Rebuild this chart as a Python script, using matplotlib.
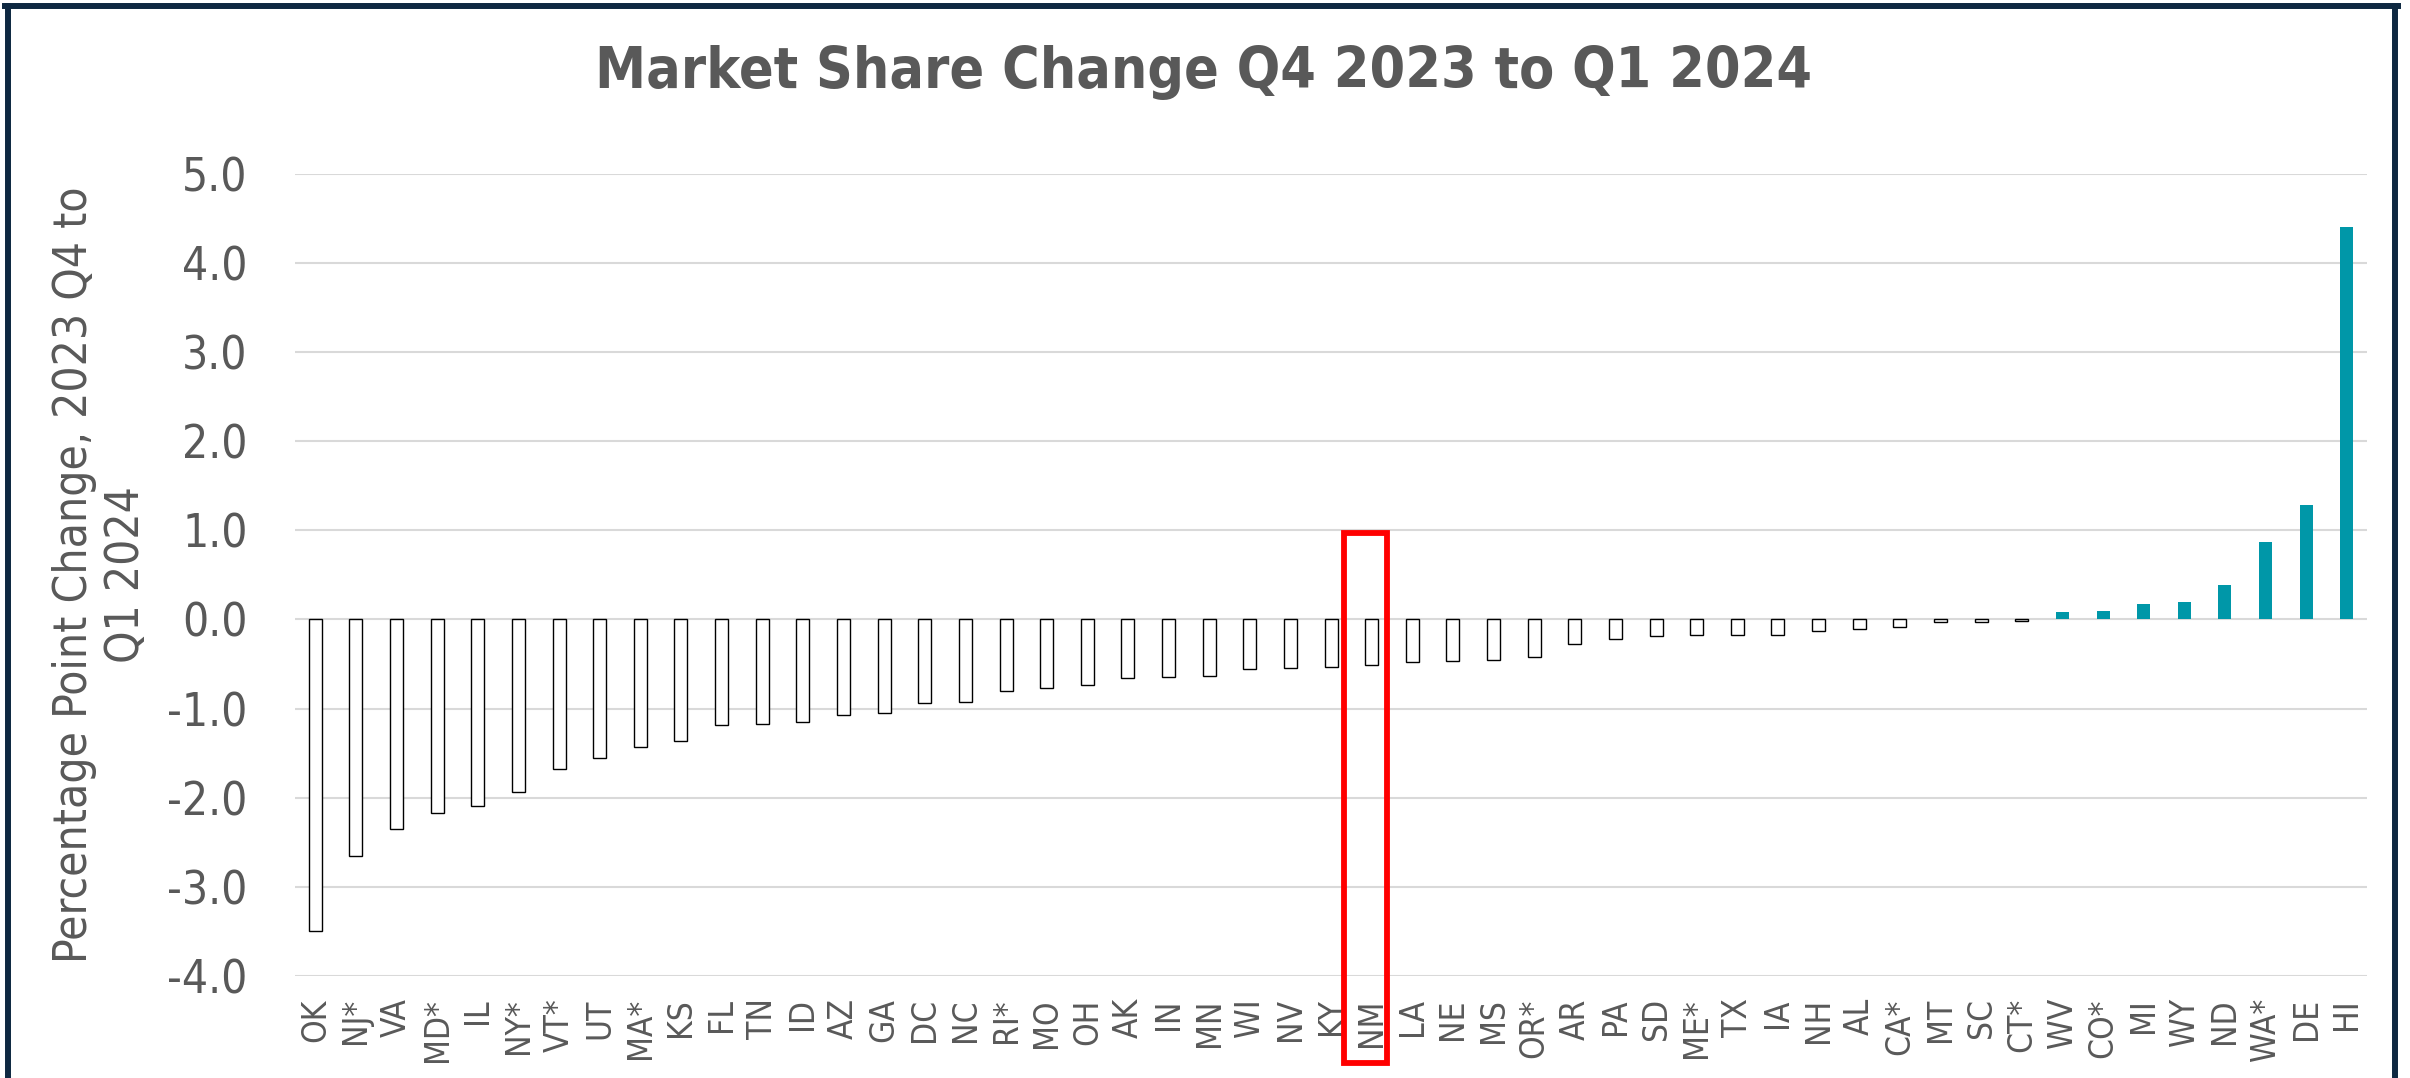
import matplotlib
matplotlib.use("Agg")
import matplotlib.pyplot as plt
from matplotlib import font_manager
from matplotlib.patches import Rectangle
from matplotlib.lines import Line2D

# states sorted by change, Q4 2023 -> Q1 2024 (percentage points)
states = ["OK", "NJ*", "VA", "MD*", "IL", "NY*", "VT*", "UT", "MA*", "KS",
          "FL", "TN", "ID", "AZ", "GA", "DC", "NC", "RI*", "MO", "OH",
          "AK", "IN", "MN", "WI", "NV", "KY", "NM", "LA", "NE", "MS",
          "OR*", "AR", "PA", "SD", "ME*", "TX", "IA", "NH", "AL", "CA*",
          "MT", "SC", "CT*", "WV", "CO*", "MI", "WY", "ND", "WA*", "DE", "HI"]
change = [-3.50, -2.65, -2.35, -2.17, -2.09, -1.94, -1.68, -1.56, -1.43, -1.36,
          -1.18, -1.17, -1.15, -1.07, -1.05, -0.94, -0.93, -0.80, -0.77, -0.74,
          -0.66, -0.65, -0.64, -0.56, -0.54, -0.53, -0.51, -0.48, -0.47, -0.46,
          -0.42, -0.28, -0.22, -0.19, -0.18, -0.18, -0.17, -0.13, -0.11, -0.09,
          -0.03, -0.03, -0.02, 0.08, 0.09, 0.17, 0.20, 0.39, 0.87, 1.28, 4.40]
highlight = "NM"

grey = "#595959"
teal = "#0097A8"
navy = "#0E2841"

# Tahoma-like look: condensed DejaVu if the system has it, else Liberation Sans
files = {f.fname.split("/")[-1]: f.fname for f in font_manager.fontManager.ttflist}
if "DejaVuSansCondensed.ttf" in files and "DejaVuSansCondensed-Bold.ttf" in files:
    def fp(size, bold=False):
        name = "DejaVuSansCondensed-Bold.ttf" if bold else "DejaVuSansCondensed.ttf"
        return font_manager.FontProperties(fname=files[name], size=size)
    sz_title, sz_y, sz_x, sz_lab = 41, 33, 24, 33
else:
    def fp(size, bold=False):
        return font_manager.FontProperties(family="Liberation Sans",
                                           weight="bold" if bold else "normal", size=size)
    sz_title, sz_y, sz_x, sz_lab = 45, 34, 25, 34

fig = plt.figure(figsize=(24.1, 10.78), dpi=100)
ax = fig.add_axes([0.1224, 0.0946, 0.8598, 0.7443])

x = list(range(len(states)))
for i, v in zip(x, change):
    if v >= 0:
        ax.bar(i, v, width=0.32, color=teal, zorder=3)
    else:
        ax.bar(i, v, width=0.32, facecolor="white", edgecolor="black", linewidth=1.0, zorder=3)

ax.set_xlim(-0.5, len(states) - 0.5)
ax.set_ylim(-4, 5)
ax.set_yticks(range(-4, 6))
ax.set_yticklabels([f"{t:.1f}" for t in range(-4, 6)])
ax.set_xticks(x)
ax.set_xticklabels(states, rotation=90)
ax.tick_params(axis="y", colors=grey, length=0, pad=34)
ax.tick_params(axis="x", colors=grey, length=0, pad=16)
for lab in ax.get_yticklabels():
    lab.set_fontproperties(fp(sz_y))
for lab in ax.get_xticklabels():
    lab.set_fontproperties(fp(sz_x))
ax.grid(axis="y", color="#D9D9D9", linewidth=1.5, zorder=0)
ax.set_axisbelow(True)
for s in ax.spines.values():
    s.set_visible(False)

# red box around the highlighted state
k = states.index(highlight)
ax.add_patch(Rectangle((k - 0.67, -4.98), 1.05, 5.95, fill=False, edgecolor="red",
                       linewidth=4.2, clip_on=False, zorder=5))

fig.text(0.4994, 0.9184, "Market Share Change Q4 2023 to Q1 2024", ha="center", va="baseline",
         fontproperties=fp(sz_title, bold=True), color=grey)
fig.text(0.0415, 0.4666, "Percentage Point Change, 2023 Q4 to\nQ1 2024", rotation=90,
         ha="center", va="center", multialignment="center", fontproperties=fp(sz_lab),
         color=grey, linespacing=1.2)

# dark frame around the chart
lw = 4.3
fig.add_artist(Line2D([8 / 2410, 8 / 2410], [0, 1 - 6 / 1078], color=navy, linewidth=lw,
                      transform=fig.transFigure))
fig.add_artist(Line2D([2395 / 2410, 2395 / 2410], [0, 1 - 6 / 1078], color=navy, linewidth=lw,
                      transform=fig.transFigure))
fig.add_artist(Line2D([5 / 2410, 2398 / 2410], [1 - 6 / 1078, 1 - 6 / 1078], color=navy,
                      linewidth=lw, transform=fig.transFigure))

fig.savefig("out.png", dpi=100)
